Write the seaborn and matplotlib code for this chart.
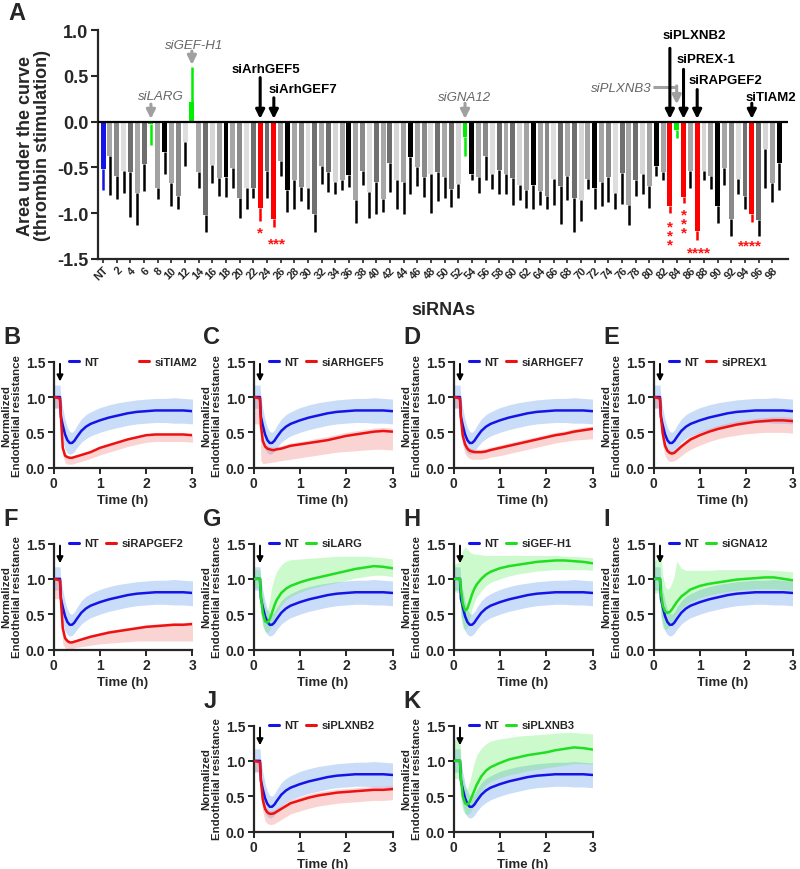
import numpy as np
import pandas as pd
import matplotlib
matplotlib.use("Agg")
import matplotlib.pyplot as plt
import seaborn as sns
from matplotlib.lines import Line2D

sns.set_theme(style="ticks")
plt.rcParams['font.family'] = ['Liberation Sans', 'DejaVu Sans']
plt.rcParams['font.weight'] = 'bold'
plt.rcParams['axes.labelweight'] = 'bold'
plt.rcParams['axes.unicode_minus'] = False

# ---------------- Panel A data ----------------
sirna = ['NT'] + [str(i) for i in range(1, 100)]
auc = [-0.52, -0.38, -0.59, -0.54, -0.55, -0.78, -0.46, -0.03, -0.72, -0.33,
       -0.67, -0.81, -0.22, 0.21, -0.55, -1.02, -0.47, -0.62, -0.60, -0.51,
       -0.83, -0.72, -0.72, -0.94, -0.54, -1.06, -0.43, -0.75, -0.64, -0.71,
       -0.72, -1.01, -0.49, -0.55, -0.66, -0.64, -0.58, -0.86, -0.54, -0.77,
       -0.66, -0.84, -0.45, -0.64, -0.66, -0.39, -0.50, -0.61, -0.57, -0.55,
       -0.60, -0.74, -0.68, -0.17, -0.57, -0.61, -0.38, -0.57, -0.53, -0.57,
       -0.62, -0.69, -0.75, -0.69, -0.76, -0.81, -0.63, -0.70, -0.59, -0.83,
       -0.86, -0.63, -0.72, -0.66, -0.61, -0.78, -0.56, -0.91, -0.64, -0.57,
       -0.70, -0.49, -0.55, -0.92, -0.09, -0.82, -0.54, -1.19, -0.54, -0.59,
       -0.92, -0.51, -1.06, -0.63, -0.81, -1.01, -1.07, -0.30, -0.67, -0.45]
auc_err_end = [-0.75, -0.80, -0.85, -0.78, -1.04, -1.13, -0.76, -0.25, -0.85, -0.57,
               -0.92, -0.95, -0.48, 0.60, -0.72, -1.21, -0.67, -0.81, -0.82, -0.72,
               -1.05, -0.95, -0.83, -1.08, -0.83, -1.15, -0.59, -0.99, -0.95, -0.87,
               -0.95, -1.21, -0.68, -0.77, -0.79, -0.75, -0.71, -1.11, -0.69, -1.05,
               -1.01, -0.99, -0.77, -0.95, -1.01, -0.79, -0.70, -0.82, -1.00, -0.87,
               -0.83, -0.93, -0.83, -0.38, -0.64, -0.78, -0.64, -0.74, -0.79, -0.79,
               -0.91, -0.86, -0.94, -0.95, -0.91, -0.95, -0.91, -1.12, -0.86, -1.20,
               -1.09, -0.74, -0.95, -0.92, -0.88, -0.95, -0.90, -1.13, -0.81, -0.79,
               -0.94, -0.59, -0.64, -1.00, -0.18, -0.89, -0.72, -1.29, -0.64, -0.74,
               -1.11, -0.69, -1.25, -0.79, -0.95, -1.10, -1.25, -0.73, -0.88, -0.75]
tick_labels = ['NT'] + [str(i) for i in range(2, 99, 2)]
green_hits = ['7', '13', '53', '84']
red_hits = ['23', '25', '83', '85', '87', '95']
stars = [('23', '*'), ('25', '***'), ('83', '*\n*\n*'), ('85', '*\n*\n*'), ('87', '****'), ('95', '****')]
bold_labels = [('siArhGEF5', '23'), ('siArhGEF7', '25'), ('siPLXNB2', '83'),
               ('siPREX-1', '85'), ('siRAPGEF2', '87'), ('siTIAM2', '95')]
italic_labels = [('siLARG', '7'), ('siGEF-H1', '13'), ('siGNA12', '53'), ('siPLXNB3', '84')]

# ---------------- Panels B-K data ----------------
time_h = [0, 0.14, 0.16, 0.2, 0.25, 0.3, 0.35, 0.4, 0.45, 0.5, 0.6, 0.7, 0.8,
          1.0, 1.2, 1.4, 1.6, 1.8, 2.0, 2.2, 2.4, 2.6, 2.8, 3.0]
nt_mean = [1.00, 1.00, 0.72, 0.60, 0.47, 0.39, 0.35, 0.35, 0.38, 0.43, 0.52, 0.58, 0.62,
           0.67, 0.71, 0.74, 0.77, 0.79, 0.80, 0.81, 0.81, 0.81, 0.81, 0.80]
nt_hi = [1.17, 1.17, 0.98, 0.84, 0.68, 0.57, 0.51, 0.50, 0.53, 0.59, 0.69, 0.75, 0.79,
         0.85, 0.89, 0.92, 0.94, 0.96, 0.97, 0.98, 0.98, 0.99, 0.98, 0.97]
nt_lo = [0.84, 0.84, 0.50, 0.36, 0.26, 0.21, 0.19, 0.20, 0.23, 0.28, 0.36, 0.41, 0.45,
         0.50, 0.54, 0.57, 0.60, 0.62, 0.63, 0.64, 0.64, 0.63, 0.63, 0.62]

tiam2_mean = [1.00, 0.98, 0.72, 0.28, 0.17, 0.15, 0.14, 0.14, 0.15, 0.16, 0.18, 0.20, 0.22,
              0.28, 0.32, 0.36, 0.40, 0.43, 0.46, 0.47, 0.47, 0.47, 0.47, 0.46]
tiam2_hi = [1.00, 1.00, 0.74, 0.32, 0.20, 0.17, 0.16, 0.16, 0.17, 0.18, 0.20, 0.22, 0.24,
            0.30, 0.34, 0.38, 0.42, 0.45, 0.48, 0.49, 0.49, 0.49, 0.49, 0.48]
tiam2_lo = [0.85, 0.85, 0.55, 0.18, 0.07, 0.05, 0.05, 0.05, 0.06, 0.07, 0.09, 0.11, 0.13,
            0.18, 0.22, 0.26, 0.30, 0.33, 0.36, 0.37, 0.37, 0.37, 0.37, 0.36]

gef5_mean = [1.00, 0.98, 0.60, 0.38, 0.30, 0.27, 0.26, 0.25, 0.25, 0.26, 0.27, 0.29, 0.31,
             0.33, 0.35, 0.37, 0.39, 0.42, 0.45, 0.47, 0.49, 0.51, 0.52, 0.51]
gef5_hi = [1.00, 1.00, 0.62, 0.42, 0.34, 0.31, 0.30, 0.29, 0.29, 0.30, 0.31, 0.33, 0.35,
           0.37, 0.39, 0.42, 0.44, 0.47, 0.50, 0.52, 0.54, 0.56, 0.57, 0.56]
gef5_lo = [0.62, 0.62, 0.10, 0.06, 0.06, 0.07, 0.07, 0.08, 0.08, 0.09, 0.10, 0.11, 0.12,
           0.14, 0.16, 0.18, 0.20, 0.22, 0.23, 0.24, 0.25, 0.26, 0.26, 0.25]

gef7_mean = [1.00, 0.98, 0.70, 0.45, 0.33, 0.27, 0.24, 0.23, 0.22, 0.22, 0.22, 0.23, 0.25,
             0.28, 0.31, 0.34, 0.37, 0.40, 0.43, 0.46, 0.48, 0.51, 0.53, 0.55]
gef7_hi = [1.00, 1.00, 0.74, 0.49, 0.37, 0.31, 0.28, 0.27, 0.26, 0.26, 0.26, 0.27, 0.29,
           0.32, 0.35, 0.38, 0.41, 0.44, 0.47, 0.50, 0.52, 0.55, 0.57, 0.59]
gef7_lo = [0.85, 0.85, 0.55, 0.32, 0.20, 0.15, 0.13, 0.12, 0.12, 0.12, 0.12, 0.13, 0.15,
           0.17, 0.20, 0.23, 0.26, 0.29, 0.32, 0.35, 0.37, 0.39, 0.40, 0.41]

prex1_mean = [1.00, 0.98, 0.72, 0.48, 0.31, 0.24, 0.21, 0.20, 0.21, 0.24, 0.30, 0.35, 0.40,
              0.46, 0.51, 0.55, 0.58, 0.61, 0.63, 0.65, 0.66, 0.67, 0.67, 0.66]
prex1_hi = [1.00, 1.00, 0.75, 0.52, 0.35, 0.28, 0.25, 0.24, 0.25, 0.28, 0.34, 0.40, 0.45,
            0.51, 0.56, 0.60, 0.63, 0.66, 0.68, 0.70, 0.71, 0.72, 0.72, 0.71]
prex1_lo = [0.85, 0.85, 0.58, 0.32, 0.17, 0.11, 0.09, 0.09, 0.10, 0.12, 0.17, 0.22, 0.26,
            0.32, 0.37, 0.41, 0.44, 0.46, 0.48, 0.49, 0.50, 0.50, 0.50, 0.49]

rap_mean = [1.00, 0.98, 0.70, 0.30, 0.16, 0.12, 0.10, 0.10, 0.11, 0.12, 0.14, 0.16, 0.18,
            0.21, 0.24, 0.26, 0.28, 0.30, 0.32, 0.33, 0.34, 0.35, 0.35, 0.36]
rap_hi = [1.00, 1.00, 0.73, 0.34, 0.19, 0.15, 0.13, 0.13, 0.14, 0.15, 0.17, 0.19, 0.21,
          0.24, 0.27, 0.29, 0.31, 0.33, 0.35, 0.36, 0.37, 0.38, 0.38, 0.39]
rap_lo = [0.72, 0.72, 0.45, 0.08, 0.02, 0.01, 0.01, 0.01, 0.02, 0.03, 0.04, 0.05, 0.06,
          0.08, 0.09, 0.10, 0.11, 0.12, 0.12, 0.12, 0.12, 0.12, 0.12, 0.12]

larg_mean = [1.00, 1.00, 0.75, 0.52, 0.40, 0.38, 0.43, 0.52, 0.62, 0.70, 0.80, 0.86, 0.90,
             0.95, 0.99, 1.02, 1.05, 1.08, 1.11, 1.14, 1.16, 1.18, 1.17, 1.15]
larg_hi = [1.13, 1.13, 0.95, 0.75, 0.60, 0.55, 0.70, 0.90, 1.02, 1.10, 1.20, 1.25, 1.27,
           1.28, 1.29, 1.30, 1.31, 1.32, 1.32, 1.32, 1.32, 1.31, 1.30, 1.28]
larg_lo = [0.87, 0.87, 0.55, 0.32, 0.25, 0.24, 0.28, 0.36, 0.45, 0.52, 0.63, 0.70, 0.75,
           0.81, 0.86, 0.89, 0.92, 0.95, 0.98, 1.01, 1.03, 1.05, 1.05, 1.03]

gefh1_mean = [1.00, 1.00, 0.85, 0.65, 0.55, 0.58, 0.68, 0.78, 0.86, 0.92, 1.00, 1.06, 1.10,
              1.15, 1.18, 1.20, 1.22, 1.24, 1.25, 1.26, 1.26, 1.25, 1.24, 1.22]
gefh1_hi = [1.20, 1.25, 1.35, 1.40, 1.45, 1.42, 1.38, 1.36, 1.35, 1.35, 1.34, 1.33, 1.33,
            1.33, 1.33, 1.33, 1.33, 1.33, 1.33, 1.33, 1.32, 1.32, 1.31, 1.30]
gefh1_lo = [0.82, 0.80, 0.45, 0.30, 0.28, 0.33, 0.45, 0.58, 0.67, 0.74, 0.83, 0.90, 0.95,
            1.00, 1.04, 1.07, 1.09, 1.11, 1.12, 1.13, 1.13, 1.13, 1.13, 1.12]

gna12_mean = [1.00, 1.00, 0.80, 0.62, 0.54, 0.52, 0.53, 0.57, 0.62, 0.67, 0.75, 0.80, 0.85,
              0.90, 0.93, 0.95, 0.97, 0.99, 1.00, 1.01, 1.02, 1.02, 1.00, 0.98]
gna12_hi = [1.25, 1.30, 1.35, 1.05, 0.90, 0.85, 0.88, 0.95, 1.05, 1.25, 1.15, 1.12, 1.12,
            1.12, 1.12, 1.13, 1.13, 1.13, 1.13, 1.13, 1.13, 1.12, 1.11, 1.10]
gna12_lo = [0.80, 0.80, 0.45, 0.30, 0.28, 0.30, 0.33, 0.38, 0.45, 0.50, 0.58, 0.63, 0.68,
            0.73, 0.77, 0.80, 0.82, 0.84, 0.85, 0.86, 0.86, 0.86, 0.85, 0.84]

plxnb2_mean = [1.00, 0.98, 0.72, 0.45, 0.32, 0.27, 0.25, 0.25, 0.26, 0.28, 0.32, 0.36, 0.40,
               0.44, 0.48, 0.51, 0.53, 0.55, 0.56, 0.57, 0.58, 0.59, 0.59, 0.60]
plxnb2_hi = [1.00, 1.00, 0.76, 0.50, 0.37, 0.32, 0.30, 0.30, 0.31, 0.33, 0.37, 0.41, 0.45,
             0.49, 0.53, 0.56, 0.58, 0.60, 0.61, 0.62, 0.63, 0.64, 0.64, 0.65]
plxnb2_lo = [0.85, 0.85, 0.55, 0.28, 0.15, 0.11, 0.10, 0.10, 0.11, 0.13, 0.17, 0.21, 0.25,
             0.29, 0.33, 0.36, 0.38, 0.40, 0.41, 0.42, 0.43, 0.44, 0.44, 0.45]

plxnb3_mean = [1.00, 1.00, 0.75, 0.50, 0.40, 0.38, 0.42, 0.50, 0.58, 0.66, 0.78, 0.86, 0.91,
               0.97, 1.02, 1.05, 1.08, 1.10, 1.12, 1.15, 1.17, 1.19, 1.18, 1.16]
plxnb3_hi = [1.30, 1.30, 1.00, 0.75, 0.62, 0.60, 0.70, 0.85, 0.98, 1.08, 1.18, 1.24, 1.28,
             1.31, 1.33, 1.35, 1.36, 1.37, 1.38, 1.39, 1.40, 1.40, 1.39, 1.38]
plxnb3_lo = [0.75, 0.75, 0.50, 0.30, 0.25, 0.24, 0.26, 0.32, 0.40, 0.48, 0.58, 0.66, 0.71,
             0.76, 0.80, 0.83, 0.86, 0.88, 0.90, 0.92, 0.94, 0.96, 0.96, 0.95]

# ---------------- styles ----------------
BLUE = '#1414e6'
RED = '#ee1111'
GREEN = '#22dd22'
gray_cycle = ['#a6a6a6', '#8a8a8a', '#dedede', '#707070', '#a8a8a8',
              '#6e6e6e', '#d6d6d6', '#a3a3a3', '#000000']

W, H = 800, 870
fig = plt.figure(figsize=(W / 100, H / 100), dpi=100)
fig.patch.set_facecolor('white')


def px_axes(left, top, right, bottom):
    return fig.add_axes([left / W, 1 - bottom / H, (right - left) / W, (bottom - top) / H])


# ---------------- Panel A ----------------
axA = px_axes(98, 31, 788, 260)
bar_colors = []
err_colors = []
for i, name in enumerate(sirna):
    if name == 'NT':
        c = BLUE
        ec = BLUE
    elif name in green_hits:
        c = '#00ee00'
        ec = c
    elif name in red_hits:
        c = '#ff0000'
        ec = c
    else:
        c = gray_cycle[(i - 1) % 9]
        ec = 'black'
    bar_colors.append(c)
    err_colors.append(ec)

dfA = pd.DataFrame({'sirna': sirna, 'auc': auc, 'err': auc_err_end})
sns.barplot(data=dfA, x='sirna', y='auc', hue='sirna', order=sirna,
            palette=dict(zip(sirna, bar_colors)), saturation=1, width=0.72,
            legend=False, ax=axA, errorbar=None, linewidth=0)
pos = np.arange(len(sirna))
axA.vlines(pos, dfA['auc'], dfA['err'], colors=err_colors, lw=1.8, zorder=3)
axA.axhline(0, color='black', lw=1.6, zorder=4)
axA.set_xlim(-0.75, 100.3)
axA.set_ylim(-1.5, 1.0)
axA.set_yticks([1.0, 0.5, 0.0, -0.5, -1.0, -1.5])
axA.set_yticklabels(['1.0', '0.5', '0.0', '-0.5', '-1.0', '-1.5'], fontsize=13, fontweight='bold')
tick_pos = [sirna.index(t) for t in tick_labels]
axA.set_xticks(tick_pos)
axA.set_xticklabels(tick_labels, rotation=45, ha='right', rotation_mode='anchor',
                    fontsize=7.8, fontweight='bold')
axA.tick_params(axis='x', length=3, width=1.2, pad=1)
axA.tick_params(axis='y', length=5, width=1.5, pad=2)
for s in ['top', 'right']:
    axA.spines[s].set_visible(False)
for s in ['left', 'bottom']:
    axA.spines[s].set_linewidth(1.6)
axA.set_xlabel('siRNAs', fontsize=13, fontweight='bold', labelpad=14)
axA.set_ylabel('Area under the curve\n(thrombin stimulation)', fontsize=13,
               fontweight='bold', labelpad=4, linespacing=1.0)

# significance stars
star_y = {'23': -1.13, '25': -1.25, '83': -1.07, '85': -0.94, '87': -1.35, '95': -1.28}
star_dx = {'23': 0, '25': 0.4, '83': 0, '85': 0, '87': 0.3, '95': -0.3}
for name, txt in stars:
    axA.text(sirna.index(name) + star_dx[name], star_y[name], txt, color='#ff1111',
             ha='center', va='top', fontsize=11, fontweight='bold', linespacing=0.55)

# bold black arrow labels: (text x, text y, arrow tail y)
bold_pos = {'siArhGEF5': (23.8, 0.57, 0.48), 'siArhGEF7': (29.2, 0.36, 0.26),
            'siPLXNB2': (86.5, 0.95, 0.80), 'siPREX-1': (88.3, 0.68, 0.57),
            'siRAPGEF2': (91.2, 0.45, 0.35), 'siTIAM2': (97.8, 0.27, 0.20)}
for lab, name in bold_labels:
    xi = sirna.index(name)
    tx, ty, tail = bold_pos[lab]
    axA.text(tx, ty, lab, ha='center', va='center', fontsize=9.5, fontweight='bold', color='black')
    axA.annotate('', xy=(xi, 0.03), xytext=(xi, tail),
                 arrowprops=dict(arrowstyle='-|>', color='black', lw=2.2, mutation_scale=13,
                                 shrinkA=0, shrinkB=0))

it_pos = {'siLARG': (8.5, 0.28, 0.19, 0.03), 'siGEF-H1': (13.3, 0.84, 0.77, 0.62),
          'siGNA12': (53.0, 0.27, 0.20, 0.03)}
for lab, name in italic_labels:
    xi = sirna.index(name)
    if lab == 'siPLXNB3':
        axA.text(80.3, 0.37, lab, ha='right', va='center', fontsize=9.5, style='italic',
                 fontweight='normal', color='#666666')
        axA.plot([80.6, xi], [0.38, 0.38], color='#a0a0a0', lw=2.2, solid_capstyle='butt')
        axA.annotate('', xy=(xi, 0.19), xytext=(xi, 0.39),
                     arrowprops=dict(arrowstyle='-|>', color='#a0a0a0', lw=2.2, mutation_scale=13,
                                     shrinkA=0, shrinkB=0))
        continue
    tx, ty, tail, tip = it_pos[lab]
    axA.text(tx, ty, lab, ha='center', va='center', fontsize=9.5, style='italic',
             fontweight='normal', color='#666666')
    axA.annotate('', xy=(xi, tip), xytext=(xi, tail),
                 arrowprops=dict(arrowstyle='-|>', color='#a0a0a0', lw=2.2, mutation_scale=13,
                                 shrinkA=0, shrinkB=0))

fig.text(8 / W, 1 - 14 / H, 'A', fontsize=17, fontweight='bold', va='center', ha='left')

# ---------------- Panels B-K ----------------
panels = [
    ('B', 0, 0, 'siTIAM2', tiam2_mean, tiam2_lo, tiam2_hi, RED, 3.6),
    ('C', 1, 0, 'siARHGEF5', gef5_mean, gef5_lo, gef5_hi, RED, 0.6),
    ('D', 2, 0, 'siARHGEF7', gef7_mean, gef7_lo, gef7_hi, RED, 0.6),
    ('E', 3, 0, 'siPREX1', prex1_mean, prex1_lo, prex1_hi, RED, 0.6),
    ('F', 0, 1, 'siRAPGEF2', rap_mean, rap_lo, rap_hi, RED, 0.6),
    ('G', 1, 1, 'siLARG', larg_mean, larg_lo, larg_hi, GREEN, 0.6),
    ('H', 2, 1, 'siGEF-H1', gefh1_mean, gefh1_lo, gefh1_hi, GREEN, 0.6),
    ('I', 3, 1, 'siGNA12', gna12_mean, gna12_lo, gna12_hi, GREEN, 0.6),
    ('J', 1, 2, 'siPLXNB2', plxnb2_mean, plxnb2_lo, plxnb2_hi, RED, 0.6),
    ('K', 2, 2, 'siPLXNB3', plxnb3_mean, plxnb3_lo, plxnb3_hi, GREEN, 0.6),
]
fill_of = {RED: ('#f07070', 0.30), GREEN: ('#44ee44', 0.27)}
col_left = [53.5, 253.5, 453.5, 653.5]
row_top = [362.7, 544.5, 726.5]
for letter, col, row, lab, mean, lo, hi, color, cspace in panels:
    left = col_left[col]
    top = row_top[row]
    ax = px_axes(left, top, left + 139, top + 106)
    fc, fa = fill_of[color]
    ax.fill_between(time_h, nt_lo, nt_hi, color='#4d8ee8', alpha=0.30, lw=0, zorder=1)
    ax.fill_between(time_h, lo, hi, color=fc, alpha=fa, lw=0, zorder=1)
    df = pd.DataFrame({'t': time_h + time_h, 'v': list(nt_mean) + list(mean),
                       'g': ['NT'] * len(time_h) + [lab] * len(time_h)})
    sns.lineplot(data=df, x='t', y='v', hue='g', palette={'NT': BLUE, lab: color},
                 lw=1.8, legend=False, ax=ax, zorder=3)
    ax.set_xlim(0, 3)
    ax.set_ylim(0, 1.5)
    ax.set_xticks([0, 1, 2, 3])
    ax.set_xticklabels(['0', '1', '2', '3'], fontsize=10, fontweight='bold')
    ax.set_yticks([0.0, 0.5, 1.0, 1.5])
    ax.set_yticklabels(['0.0', '0.5', '1.0', '1.5'], fontsize=10, fontweight='bold')
    ax.tick_params(length=4, width=1.4, pad=2)
    for s in ['top', 'right']:
        ax.spines[s].set_visible(False)
    for s in ['left', 'bottom']:
        ax.spines[s].set_linewidth(1.6)
    ax.set_xlabel('Time (h)', fontsize=9.5, fontweight='bold', labelpad=3)
    ax.set_ylabel('Normalized\nEndothelial resistance', fontsize=8.2, fontweight='bold',
                  labelpad=2.5, linespacing=1.15)
    ax.annotate('', xy=(0.14, 1.22), xytext=(0.14, 1.47),
                arrowprops=dict(arrowstyle='-|>', color='black', lw=1.4, mutation_scale=9,
                                shrinkA=0, shrinkB=0))
    handles = [Line2D([0], [0], color=BLUE, lw=2.2, label='NT'),
               Line2D([0], [0], color=color, lw=2.2, label=lab)]
    ax.legend(handles=handles, loc='center left', bbox_to_anchor=(0.08, 1.0), ncol=2,
              frameon=False, handlelength=0.9, handletextpad=0.5,
              columnspacing=cspace, borderaxespad=0, prop={'weight': 'bold', 'size': 8})
    fig.text((left - 50) / W, 1 - (top - 25) / H, letter, fontsize=17, fontweight='bold',
             va='center', ha='left')

fig.savefig('out.png', dpi=100, facecolor='white')
